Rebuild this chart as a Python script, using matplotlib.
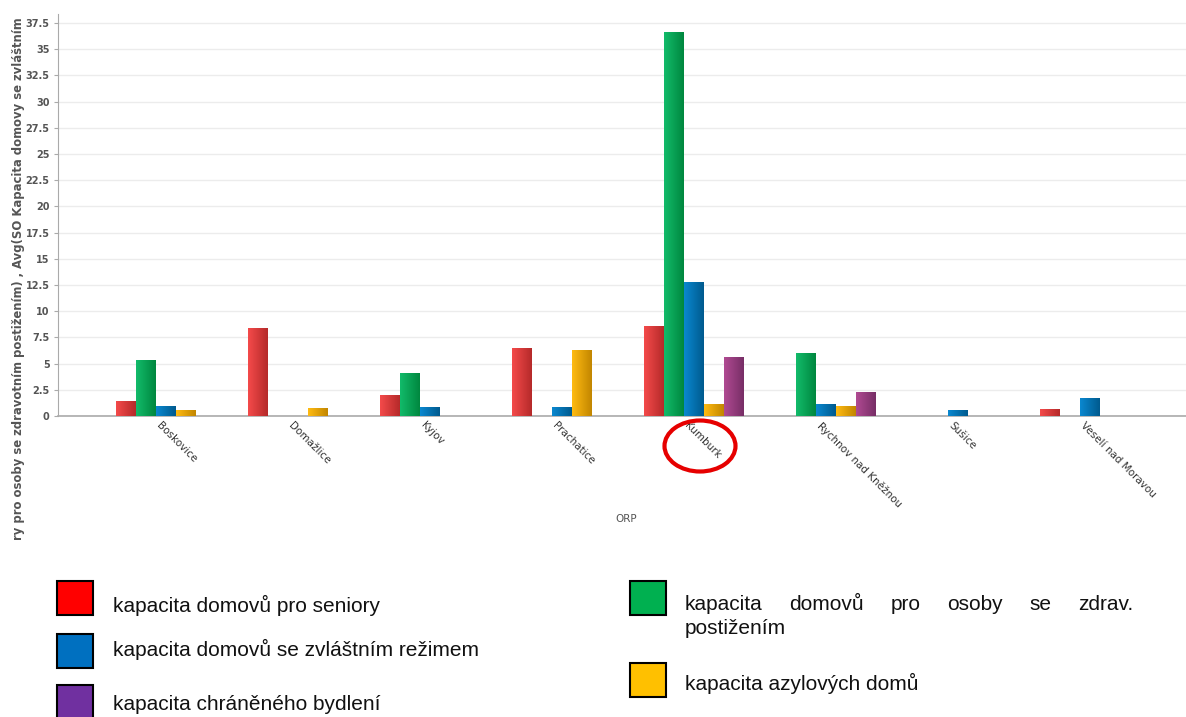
import numpy as np
import matplotlib
matplotlib.use('Agg')
import matplotlib.pyplot as plt
import matplotlib.transforms as mtransforms
from matplotlib.patches import Rectangle, Ellipse
from matplotlib.colors import LinearSegmentedColormap

# data
orp = ['Boskovice', 'Domažlice', 'Kyjov', 'Prachatice', 'Kumburk',
       'Rychnov nad Kněžnou', 'Sušice', 'Veselí nad Moravou']
seniory = [1.45, 8.4, 2.0, 6.5, 8.6, 0, 0, 0.7]
zdrav_postizeni = [5.3, 0, 4.1, 0, 36.6, 6.05, 0, 0]
zvlastni_rezim = [0.95, 0, 0.9, 0.85, 12.8, 1.1, 0.6, 1.7]
azylove_domy = [0.6, 0.8, 0, 6.3, 1.15, 0.95, 0, 0]
chranene_bydleni = [0, 0, 0, 0, 5.6, 2.25, 0, 0]

series = [seniory, zdrav_postizeni, zvlastni_rezim, azylove_domy, chranene_bydleni]
# light / dark colour of the bar gradient
bar_colors = [('#f44a4a', '#b52a2a'), ('#12bb6a', '#00873f'), ('#0a88d0', '#005a8e'),
              ('#ffbb12', '#c28600'), ('#b04a92', '#772e66')]

y_ticks = np.arange(0, 37.6, 2.5)

W, H = 1186, 717


def fx(px):
    return px / W


def fy(py):
    return 1 - py / H


fig = plt.figure(figsize=(W / 100, H / 100), dpi=100)
ax = fig.add_axes([fx(58), fy(416), fx(1186 - 58), (416 - 14) / H])

x = np.arange(len(orp))
bw = 20 / 132
for k, vals in enumerate(series):
    bars = ax.bar(x + (k - 2) * bw, vals, bw, color=bar_colors[k][1], linewidth=0, zorder=2)
    cmap = LinearSegmentedColormap.from_list('g%d' % k, [bar_colors[k][0], bar_colors[k][1]])
    grad = np.linspace(0, 1, 64).reshape(1, -1)
    for b in bars:
        if b.get_height() <= 0:
            continue
        im = ax.imshow(grad, cmap=cmap, aspect='auto', interpolation='bilinear',
                       extent=[b.get_x(), b.get_x() + b.get_width(), 0, b.get_height()],
                       zorder=3)
        im.set_clip_path(b)

ax.set_xlim((58 - 166) / 132, (1186 - 166) / 132)
ax.set_ylim(0, 402 / 10.48)

ax.set_yticks(y_ticks)
ax.set_yticklabels(['%g' % v for v in y_ticks])
ax.tick_params(axis='y', length=3, color='#aaaaaa', pad=3, labelsize=7, labelcolor='#555555')
for lab in ax.get_yticklabels():
    lab.set_fontweight('bold')

ax.set_xticks(x)
ax.set_xticklabels(orp, rotation=-45, ha='left', va='top', rotation_mode='anchor',
                   fontsize=7.5, color='#333333')
ax.tick_params(axis='x', length=0, pad=3)
offset = mtransforms.ScaledTranslation(-4 / 100, 0, fig.dpi_scale_trans)
for lab in ax.get_xticklabels():
    lab.set_transform(lab.get_transform() + offset)

ax.grid(axis='y', color='#ececec', linewidth=1, zorder=0)
ax.set_axisbelow(True)
for s in ['top', 'right']:
    ax.spines[s].set_visible(False)
ax.spines['left'].set_color('#aaaaaa')
ax.spines['bottom'].set_color('#aaaaaa')
ax.spines['bottom'].set_linewidth(1.2)

# axis titles
fig.text(fx(626), fy(519), 'ORP', ha='center', va='center', fontsize=7.5, color='#555555')
fig.text(fx(19), fy(540),
         'ry pro osoby se zdravotním postižením) , Avg(SO Kapacita domovy se zvláštním',
         rotation=90, ha='center', va='bottom', fontsize=8.4, fontweight='bold', color='#555555')

# red highlight around Kumburk
fig.patches.append(Ellipse((fx(700), fy(446)), fx(71), 51 / H, transform=fig.transFigure,
                           fill=False, edgecolor='#e60000', linewidth=3))

# legend below the chart
lfont = dict(family='Liberation Sans', fontsize=15, color='#111111', va='center')
legend_colors = ['#ff0000', '#00b050', '#0070c0', '#ffc000', '#7030a0']


def square(px, py, color):
    fig.patches.append(Rectangle((fx(px), fy(py + 34)), 36 / W, 34 / H, transform=fig.transFigure,
                                 facecolor=color, edgecolor='black', linewidth=1.5))


square(57, 581, legend_colors[0])
fig.text(fx(113), fy(605), 'kapacita domovů pro seniory', **lfont)
square(57, 634, legend_colors[2])
fig.text(fx(113), fy(649), 'kapacita domovů se zvláštním režimem', **lfont)
square(57, 685, legend_colors[4])
fig.text(fx(113), fy(704), 'kapacita chráněného bydlení', **lfont)

square(630, 581, legend_colors[1])
words = ['kapacita', 'domovů', 'pro', 'osoby', 'se', 'zdrav.']
renderer = fig.canvas.get_renderer()
texts = [fig.text(0, fy(605), w, **lfont) for w in words]
widths = [t.get_window_extent(renderer).width for t in texts]
gap = (1133 - 685 - sum(widths)) / (len(words) - 1)
pos = 685
for t, w in zip(texts, widths):
    t.set_x(fx(pos))
    pos += w + gap
fig.text(fx(685), fy(628), 'postižením', **lfont)
square(630, 663, legend_colors[3])
fig.text(fx(685), fy(683), 'kapacita azylových domů', **lfont)

fig.savefig('out.png', dpi=100)
